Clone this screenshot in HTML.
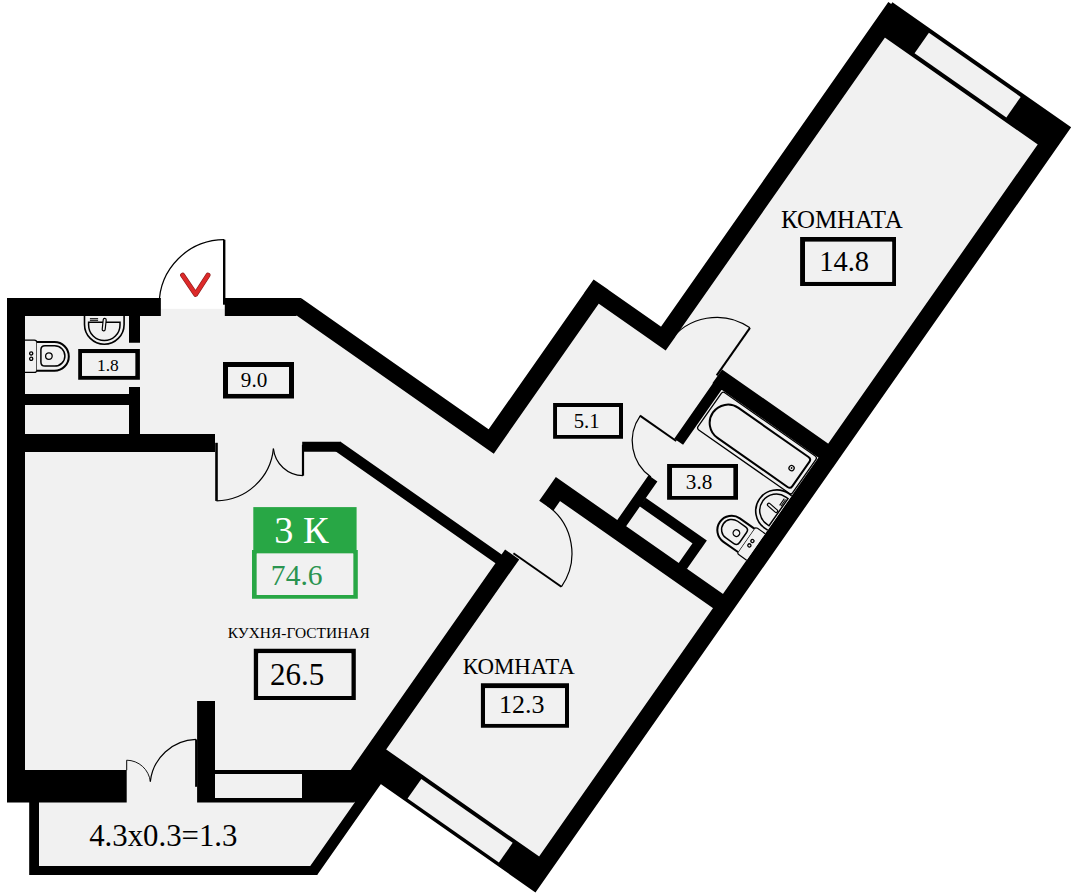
<!DOCTYPE html>
<html><head><meta charset="utf-8"><style>
html,body{margin:0;padding:0;background:#fff;width:1078px;height:896px;overflow:hidden}
svg{display:block}
text{font-family:"Liberation Serif",serif}
</style></head><body>
<svg width="1078" height="896" viewBox="0 0 1078 896">
<polygon points="7,298 301.1,298 488.63,429.3 593.59,279.39 661.09,326.65 888.34,2.11 891.13,4.06 892.42,2.21 1071.16,127.37 535.46,892.41 380.81,784.12 317.14,875.05 29.2,875 29.2,802.6 7,802.6" fill="#f1f1f1"/>
<rect x="160.85" y="297" width="63.95" height="11.8" fill="#fff"/>
<path d="M224.3,239.7 A65.1,65.1 0 0,0 159.2,304.8" fill="none" stroke="#000" stroke-width="1.2"/>
<rect x="223" y="239.7" width="2.4" height="65" fill="#000"/>
<path d="M216.5,500.8 A57.8,57.8 0 0,0 273.4,448.6" fill="none" stroke="#000" stroke-width="1.2"/>
<rect x="215.2" y="442.8" width="2.6" height="58.1" fill="#000"/>
<path d="M303,475.6 A30.3,30.3 0 0,1 273.4,448.6" fill="none" stroke="#000" stroke-width="1.2"/>
<rect x="301.9" y="444.8" width="2.2" height="30.9" fill="#000"/>
<path d="M126.7,760.2 A24,24 0 0,1 150.3,781.6" fill="none" stroke="#000" stroke-width="0.9"/>
<rect x="126.2" y="760.2" width="1" height="10" fill="#000"/>
<path d="M196,739.4 A47.4,47.4 0 0,0 150.3,781.6" fill="none" stroke="#000" stroke-width="1.2"/>
<rect x="195.1" y="739.4" width="2.2" height="47.4" fill="#000"/>
<path d="M7,298H160.85V315.9H7ZM7,298H25V802.6H7ZM129,315H140V342.8H129ZM129,387.1H140V452H129ZM25,394H129V405H25ZM25,434H215V452H25ZM302.2,441.7H340.3V451.8H302.2ZM7,770H126.7V802.6H7ZM197.1,701H215V802.6H197.1ZM215,770H302V774.1H215ZM215,798.1H302V802.6H215ZM302,770H354.7V802.6H302ZM29.2,802.6H39V875H29.2ZM29.2,866H317.2V875H29.2ZM224.8,298L301.1,298L296.5,315.9L224.8,315.9Z" fill="#000"/>
<g transform="translate(888.8,1.45) rotate(35)">
<path d="M73.5,347 A58,58 0 0,0 15.5,405" fill="none" stroke="#000" stroke-width="1.2"/>
<rect x="72.5" y="347" width="2" height="58" fill="#000"/>
<path d="M34,482 A44,44 0 0,0 78,526" fill="none" stroke="#000" stroke-width="1.2"/>
<rect x="33.7" y="481" width="44.3" height="2" fill="#000"/>
<path d="M67.5,667.3 A58.5,58.5 0 0,0 9,608.8" fill="none" stroke="#000" stroke-width="1.2"/>
<rect x="9" y="666.3" width="58.5" height="2" fill="#000"/>
<path d="M3.4,-1.45H221.6V31.8H3.4ZM204,-1.45H221.6V932.5H204ZM0,0.8H17.5V414H0ZM0,3H20V31.8H0ZM-82.4,397H17.5V414H-82.4ZM74.5,397H221.6V414H74.5ZM-82.4,397H-64.2V597H-82.4ZM-311,580H-64.2V597H-311ZM-197,675.1H0.5V685.8H-197ZM0,580.5H221.6V597.8H0ZM0,597.8H17.3V609.5H0ZM0,669H17.3V932.5H0ZM0,901H221.6V932.5H0ZM75,414H85.8V481.2H75ZM75,526H85.8V580.5H75ZM85.8,546H160.2V556.5H85.8ZM150,546H160.2V580.5H150ZM0,925H32.8V962H0ZM22,925H32.8V1043.5H22Z" fill="#000"/>
<rect x="50.8" y="2.6" width="112" height="25" fill="#f1f1f1"/>
<rect x="63" y="905" width="111.5" height="24" fill="#f1f1f1"/>
</g>
<g transform="translate(25,356.2)"><path d="M0,-16.1 H9.3 Q11.8,-16.1 11.8,-13.6 V13.7 Q11.8,16.2 9.3,16.2 H0" fill="#f1f1f1" stroke="#000" stroke-width="1.2"/><path d="M11.8,-14.1 H29.5 A14.3,14.3 0 0,1 29.5,14.5 H11.8" fill="#f1f1f1" stroke="#000" stroke-width="2"/><path d="M20,-10.5 H29.7 A10.2,10.2 0 0,1 29.7,9.9 H20 Q15.9,9.9 15.9,5.8 V-6.4 Q15.9,-10.5 20,-10.5 Z" fill="none" stroke="#000" stroke-width="1.5"/><circle cx="23.9" cy="-0.1" r="3.3" fill="none" stroke="#000" stroke-width="1.3"/><circle cx="6.2" cy="-2.8" r="1.6" fill="none" stroke="#000" stroke-width="1.3"/><circle cx="6.2" cy="2.6" r="1.6" fill="none" stroke="#000" stroke-width="1.3"/></g>
<g transform="translate(104.3,315.9)"><path d="M-19.8,0 V8.5 A19.8,19.8 0 0,0 19.8,8.5 V0" fill="#f1f1f1" stroke="#000" stroke-width="1.6"/><path d="M-15.7,6.3 L15.7,6.3 L15.7,9 A15.7,15.7 0 0,1 -15.7,9 Z" fill="none" stroke="#000" stroke-width="1.5"/><path d="M0.4,4 L-0.6,13.5" stroke="#000" stroke-width="4.2" stroke-linecap="round"/><path d="M0.4,4 L-0.6,13.5" stroke="#f1f1f1" stroke-width="1.8" stroke-linecap="round"/><path d="M-14.4,2.8 H-6.2 M-14.4,4.4 H-6.2" stroke="#000" stroke-width="1"/></g>
<g transform="translate(888.8,1.45) rotate(35)">
<g transform="translate(204,523) scale(-1,1)"><path d="M0,-16.1 H9.3 Q11.8,-16.1 11.8,-13.6 V13.7 Q11.8,16.2 9.3,16.2 H0" fill="#f1f1f1" stroke="#000" stroke-width="1.2"/><path d="M11.8,-14.1 H29.5 A14.3,14.3 0 0,1 29.5,14.5 H11.8" fill="#f1f1f1" stroke="#000" stroke-width="2"/><path d="M20,-10.5 H29.7 A10.2,10.2 0 0,1 29.7,9.9 H20 Q15.9,9.9 15.9,5.8 V-6.4 Q15.9,-10.5 20,-10.5 Z" fill="none" stroke="#000" stroke-width="1.5"/><circle cx="23.9" cy="-0.1" r="3.3" fill="none" stroke="#000" stroke-width="1.3"/><circle cx="6.2" cy="-2.8" r="1.6" fill="none" stroke="#000" stroke-width="1.3"/><circle cx="6.2" cy="2.6" r="1.6" fill="none" stroke="#000" stroke-width="1.3"/></g>
<g transform="translate(204,481.6) rotate(90)"><path d="M-21,0 V3.6 A21,21 0 0,0 21,3.6 V0" fill="#f1f1f1" stroke="#000" stroke-width="1.6"/><path d="M-16.6,1.4 L16.6,1.4 L16.6,4.1 A16.6,16.6 0 0,1 -16.6,4.1 Z" fill="none" stroke="#000" stroke-width="1.5"/><path d="M0.4,4 L-0.6,13.5" stroke="#000" stroke-width="4.2" stroke-linecap="round"/><path d="M0.4,4 L-0.6,13.5" stroke="#f1f1f1" stroke-width="1.8" stroke-linecap="round"/><path d="M-14.4,2.8 H-6.2 M-14.4,4.4 H-6.2" stroke="#000" stroke-width="1"/></g>
<rect x="87.6" y="414.6" width="115.4" height="45.4" rx="2.5" fill="none" stroke="#000" stroke-width="1.3"/>
<path d="M110,419.2 H195.5 Q199,419.2 199,422.7 V452.3 Q199,455.8 195.5,455.8 H110 A18.3,18.3 0 0,1 110,419.2 Z" fill="none" stroke="#000" stroke-width="2"/>
<circle cx="188" cy="438" r="2.6" fill="none" stroke="#000" stroke-width="1.2"/><circle cx="188" cy="438" r="0.9" fill="#000"/>
</g>
<rect x="253.3" y="507.1" width="103.3" height="46" fill="#28a745"/>
<path d="M78.2,349.1H139.9V379.7H78.2ZM82,353.2V375.8H135.2V353.2Z" fill="#000"/>
<rect x="82" y="353.2" width="53.2" height="22.6" fill="#f1f1f1"/>
<path d="M223,362H294V398.6H223ZM228.1,367.1V393.8H289V367.1Z" fill="#000"/>
<rect x="228.1" y="367.1" width="60.9" height="26.7" fill="#f1f1f1"/>
<path d="M553.1,403.1H623V438.7H553.1ZM557.1,407.1V434.9H619V407.1Z" fill="#000"/>
<rect x="557.1" y="407.1" width="61.9" height="27.8" fill="#f1f1f1"/>
<path d="M667.1,464H738V499.8H667.1ZM672.1,467.9V495.9H733.2V467.9Z" fill="#000"/>
<rect x="672.1" y="467.9" width="61.1" height="28" fill="#f1f1f1"/>
<path d="M800.1,237H896V286H800.1ZM805.1,241.8V281.8H892.1V241.8Z" fill="#000"/>
<rect x="805.1" y="241.8" width="87" height="40" fill="#f1f1f1"/>
<path d="M480.9,683.2H569V727.8H480.9ZM485.1,688.3V723.8H565V688.3Z" fill="#000"/>
<rect x="485.1" y="688.3" width="79.9" height="35.5" fill="#f1f1f1"/>
<path d="M253.8,648.8H355.8V699.9H253.8ZM258.3,653.3V695.9H351.3V653.3Z" fill="#000"/>
<rect x="258.3" y="653.3" width="93" height="42.6" fill="#f1f1f1"/>
<path d="M252,550.1H357.8V598.8H252ZM256.8,553.6V594.9H353.2V553.6Z" fill="#28a745"/>
<rect x="256.8" y="553.6" width="96.4" height="41.3" fill="#f1f1f1"/>
<text x="97.03" y="370.85" font-size="17.4" fill="#000" >1.8</text>
<text x="240.86" y="387.08" font-size="21.2" fill="#000" >9.0</text>
<text x="573.66" y="427.79" font-size="20.7" fill="#000" >5.1</text>
<text x="685.84" y="489.28" font-size="21.2" fill="#000" >3.8</text>
<text x="819.13" y="270.73" font-size="28.5" fill="#000" >14.8</text>
<text x="499.06" y="713.34" font-size="26" fill="#000" >12.3</text>
<text x="269.96" y="685.38" font-size="31" fill="#000" >26.5</text>
<text x="780.95" y="228.3" font-size="24.9" fill="#000" >КОМНАТА</text>
<text x="462.71" y="674.34" font-size="22.9" fill="#000" >КОМНАТА</text>
<text x="227.74" y="637.89" font-size="15.45" fill="#000" >КУХНЯ-ГОСТИНАЯ</text>
<text x="274.28" y="542.62" font-size="38.3" fill="#fff" >3 К</text>
<text x="270.83" y="584.71" font-size="29.6" fill="#2a9450" >74.6</text>
<text x="89.18" y="846.38" font-size="30.8" fill="#000" >4.3x0.3=1.3</text>
<polyline points="182.6,275.2 195.6,294.3 208,275.2" fill="none" stroke="#8e1c1c" stroke-width="5" stroke-linecap="round" stroke-linejoin="round"/>
<polyline points="182.6,275.2 195.6,294.3 208,275.2" fill="none" stroke="#dc2a2a" stroke-width="3.8" stroke-linecap="round" stroke-linejoin="round"/>
</svg>
</body></html>
